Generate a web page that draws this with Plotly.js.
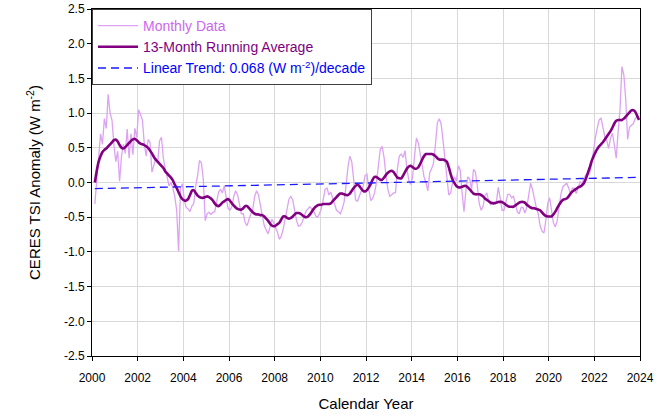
<!DOCTYPE html>
<html>
<head>
<meta charset="utf-8">
<script src="https://cdn.plot.ly/plotly-3.0.1.min.js"></script>
<style>html,body{margin:0;padding:0;background:#fff}#chart{width:663px;height:417px}</style>
</head>
<body>
<div id="chart"></div>
<script>
// First monthly sample (decimal year) and monthly step
const startYear = 2000.125;

// Monthly CERES TSI anomaly (W m-2)
const monthly = [
-0.31,0.05,0.35,0.70,0.55,0.92,0.78,1.27,1.00,0.90,0.55,0.30,
0.45,0.02,0.38,0.55,0.42,0.77,0.35,0.70,0.40,0.78,0.65,1.05,
0.98,0.90,0.55,0.38,0.62,0.58,0.15,0.25,0.35,0.28,0.60,0.65,
0.35,0.20,0.05,-0.05,0.00,-0.08,-0.20,-0.40,-0.99,-0.08,-0.02,-0.25,
-0.36,-0.38,-0.42,-0.34,-0.30,-0.05,0.10,0.32,0.28,0.05,-0.55,-0.45,
-0.43,-0.46,-0.43,-0.42,-0.28,-0.14,-0.10,-0.15,-0.05,-0.25,-0.37,-0.40,
-0.35,-0.20,-0.12,-0.18,-0.30,-0.45,-0.45,-0.58,-0.62,-0.52,-0.45,-0.38,
-0.20,-0.12,-0.18,-0.33,-0.48,-0.62,-0.68,-0.74,-0.65,-0.53,-0.58,-0.65,
-0.72,-0.82,-0.77,-0.67,-0.52,-0.38,-0.24,-0.20,-0.25,-0.40,-0.55,-0.63,
-0.62,-0.57,-0.48,-0.41,-0.38,-0.35,-0.38,-0.41,-0.48,-0.50,-0.45,-0.38,
-0.25,-0.10,-0.08,-0.18,-0.14,-0.22,-0.30,-0.40,-0.42,-0.45,-0.38,-0.28,
-0.05,0.22,0.38,0.30,0.05,-0.25,-0.27,-0.20,-0.15,-0.05,0.10,0.12,
-0.10,-0.26,-0.23,-0.15,0.00,0.25,0.48,0.52,0.36,0.10,-0.10,-0.20,
-0.17,-0.15,-0.15,0.20,0.38,0.41,0.36,0.46,0.20,0.03,-0.03,0.08,
0.38,0.64,0.57,0.38,0.25,0.08,0.00,-0.12,0.14,0.20,0.28,0.55,
0.86,0.92,0.84,0.60,0.32,0.03,-0.18,-0.15,0.00,0.08,0.02,0.24,
0.18,-0.15,-0.42,-0.12,0.08,0.05,-0.10,0.19,0.15,-0.05,-0.30,-0.40,
-0.35,-0.19,-0.15,-0.28,-0.32,-0.28,-0.30,-0.29,-0.07,-0.22,-0.40,-0.40,
-0.28,-0.17,-0.17,-0.22,-0.20,-0.32,-0.42,-0.45,-0.36,-0.36,-0.44,-0.36,
-0.18,-0.01,-0.10,-0.25,-0.36,-0.45,-0.62,-0.70,-0.73,-0.55,-0.30,-0.22,
-0.40,-0.58,-0.64,-0.55,-0.35,-0.16,-0.06,-0.04,-0.01,-0.08,-0.16,-0.08,
-0.08,-0.16,-0.06,0.01,-0.01,0.05,0.11,0.11,0.13,0.25,0.47,0.64,
0.78,0.90,0.93,0.78,0.66,0.61,0.49,0.64,0.71,0.54,0.35,0.73,
1.05,1.67,1.55,1.20,0.62,0.80,0.83,0.85,0.92,0.95,0.93
];

// 13-month running average (W m-2)
const runningAvg = [
0.00,0.17,0.30,0.38,0.44,0.47,0.49,0.52,0.55,0.58,0.61,0.62,
0.59,0.54,0.50,0.49,0.51,0.54,0.57,0.60,0.62,0.63,0.61,0.58,
0.56,0.55,0.54,0.52,0.50,0.46,0.42,0.37,0.33,0.30,0.27,0.24,
0.21,0.16,0.13,0.10,0.07,0.03,-0.03,-0.08,-0.14,-0.20,-0.24,-0.26,
-0.26,-0.24,-0.18,-0.12,-0.11,-0.15,-0.19,-0.21,-0.22,-0.22,-0.21,-0.20,
-0.21,-0.23,-0.26,-0.30,-0.33,-0.34,-0.32,-0.29,-0.27,-0.25,-0.24,-0.26,
-0.30,-0.33,-0.36,-0.38,-0.39,-0.39,-0.37,-0.34,-0.34,-0.37,-0.40,-0.43,
-0.45,-0.46,-0.46,-0.47,-0.47,-0.49,-0.52,-0.55,-0.59,-0.62,-0.63,-0.62,
-0.60,-0.58,-0.53,-0.49,-0.49,-0.51,-0.52,-0.51,-0.49,-0.46,-0.44,-0.44,
-0.45,-0.47,-0.49,-0.50,-0.49,-0.46,-0.42,-0.38,-0.35,-0.33,-0.32,-0.32,
-0.31,-0.31,-0.31,-0.31,-0.30,-0.27,-0.24,-0.21,-0.18,-0.16,-0.16,-0.17,
-0.18,-0.18,-0.16,-0.12,-0.08,-0.05,-0.03,-0.05,-0.09,-0.12,-0.13,-0.11,
-0.07,-0.02,0.04,0.08,0.08,0.06,0.04,0.04,0.07,0.11,0.14,0.16,
0.17,0.15,0.11,0.07,0.06,0.06,0.10,0.15,0.20,0.23,0.24,0.22,
0.20,0.20,0.22,0.27,0.33,0.38,0.41,0.41,0.41,0.41,0.40,0.38,
0.35,0.33,0.33,0.33,0.32,0.30,0.22,0.12,0.04,-0.01,-0.05,-0.07,
-0.07,-0.06,-0.05,-0.05,-0.07,-0.10,-0.13,-0.16,-0.17,-0.17,-0.17,-0.18,
-0.20,-0.23,-0.25,-0.27,-0.29,-0.30,-0.30,-0.29,-0.28,-0.28,-0.28,-0.30,
-0.32,-0.34,-0.35,-0.35,-0.35,-0.33,-0.31,-0.29,-0.28,-0.28,-0.29,-0.32,
-0.34,-0.36,-0.37,-0.37,-0.38,-0.39,-0.40,-0.43,-0.46,-0.48,-0.49,-0.49,
-0.49,-0.46,-0.42,-0.37,-0.32,-0.28,-0.25,-0.24,-0.23,-0.20,-0.16,-0.13,
-0.11,-0.09,-0.07,-0.06,-0.04,-0.01,0.05,0.13,0.21,0.30,0.37,0.43,
0.48,0.52,0.55,0.58,0.62,0.66,0.70,0.74,0.79,0.85,0.89,0.90,
0.90,0.90,0.92,0.95,0.98,1.01,1.04,1.04,1.02,0.96,0.90
];

// Linear trend end points (decimal year, W m-2)
const trendX = [2000.125, 2024.0];
const trendY = [-0.088, 0.074];

// Axis ticks
const xTickVals = [2000,2002,2004,2006,2008,2010,2012,2014,2016,2018,2020,2022,2024];
const yTickVals = [-2.5,-2.0,-1.5,-1.0,-0.5,0.0,0.5,1.0,1.5,2.0,2.5];
const yTickText = ["-2.5","-2.0","-1.5","-1.0","-0.5","0.0","0.5","1.0","1.5","2.0","2.5"];

const xMonthly = monthly.map((_, i) => startYear + i / 12);
const xAvg = runningAvg.map((_, i) => startYear + i / 12);

const FONT = "Liberation Sans, Arial, sans-serif";

const traces = [
  {
    x: xMonthly, y: monthly, type: "scatter", mode: "lines",
    name: '<span style="color:#cc66ee">Monthly Data</span>',
    line: {color: "rgb(221,163,242)", width: 1.3}
  },
  {
    x: xAvg, y: runningAvg, type: "scatter", mode: "lines",
    name: '<span style="color:#800080">13-Month Running Average</span>',
    line: {color: "#800080", width: 2.6, shape: "spline", smoothing: 0.6}
  },
  {
    x: trendX, y: trendY, type: "scatter", mode: "lines",
    name: '<span style="color:#0000ff">Linear Trend: 0.068 (W m<sup>-2</sup>)/decade</span>',
    line: {color: "#1a1aff", width: 1.3, dash: "8px,5px"}
  }
];

const layout = {
  width: 663, height: 417,
  margin: {l: 92, r: 23, t: 9, b: 61},
  paper_bgcolor: "#ffffff", plot_bgcolor: "#ffffff",
  font: {family: FONT, size: 12, color: "#000"},
  showlegend: true,
  legend: {
    x: 0, y: 1, xanchor: "left", yanchor: "top",
    bgcolor: "#ffffff", bordercolor: "#404040", borderwidth: 1,
    font: {family: FONT, size: 14},
    itemwidth: 40, tracegroupgap: 0
  },
  xaxis: {
    range: [2000, 2024], tickvals: xTickVals, ticktext: xTickVals.map(String),
    showgrid: true, gridcolor: "#d9d9d9", gridwidth: 1,
    showline: true, linecolor: "#000", linewidth: 1, mirror: true,
    ticks: "outside", ticklen: 4, tickcolor: "#000",
    ticklabelstandoff: 7,
    zeroline: false,
    tickfont: {family: FONT, size: 12, color: "#000"},
    title: {text: "Calendar Year", font: {family: FONT, size: 15, color: "#000"}, standoff: 14}
  },
  yaxis: {
    range: [-2.5, 2.5], tickvals: yTickVals, ticktext: yTickText,
    showgrid: true, gridcolor: "#d9d9d9", gridwidth: 1,
    showline: true, linecolor: "#000", linewidth: 1, mirror: true,
    ticks: "outside", ticklen: 4, tickcolor: "#000",
    zeroline: false,
    tickfont: {family: FONT, size: 12, color: "#000"},
    title: {text: "CERES TSI Anomaly (W m<sup>-2</sup>)", font: {family: FONT, size: 15, color: "#000"}, standoff: 19}
  }
};

Plotly.newPlot("chart", traces, layout, {displayModeBar: false, staticPlot: true});
</script>
</body>
</html>
